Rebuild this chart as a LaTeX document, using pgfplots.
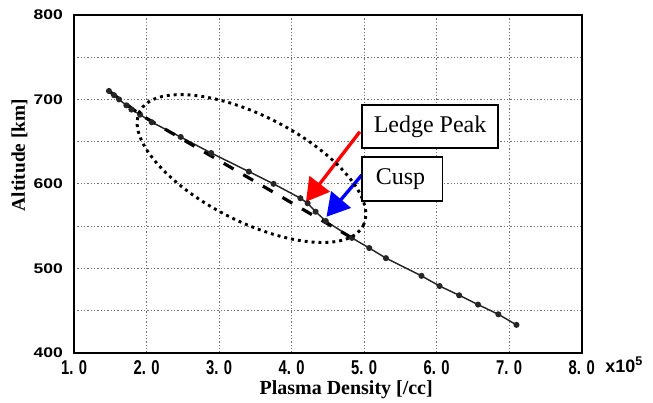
\documentclass[border=0pt]{standalone}
\usepackage{pgfplots}
\pgfplotsset{compat=1.18}
\usepackage{pgfplotstable}
\usepackage{fontspec}
\setmainfont{Liberation Serif}
\newfontfamily\tickfont{Liberation Sans}
\usetikzlibrary{arrows.meta}

% condensed / widened bold tick labels
\newcommand\xt[1]{\scalebox{0.74}[1]{\tickfont\fontsize{15}{15}\selectfont\bfseries #1}}
\newcommand\yt[1]{\scalebox{1.25}[1]{\tickfont\fontsize{10.5}{10.5}\selectfont\bfseries #1}}

% measured density profile (x in units of 1e5 /cc, altitude in km)
\pgfplotstableread{
x y
1.48 710
1.55 705
1.62 700
1.72 693
1.79 688
1.91 682
2.07 673
2.47 655.5
2.89 636.5
3.41 614.5
3.75 600
4.12 583
4.22 577
4.33 567
4.47 556
4.83 536
5.07 524
5.30 512
5.79 491
6.04 479
6.31 468
6.57 457
6.85 445.5
7.10 433
}\profile

% smooth profile without the ledge
\pgfplotstableread{
x y
1.48 710
1.91 682
4.83 536
}\trend

\begin{document}
\begin{tikzpicture}
\begin{axis}[
  scale only axis,
  width=381pt, height=253.5pt,
  xmin=1, xmax=8, ymin=400, ymax=800,
  clip=false,
  xtick={1,2,...,8},
  xticklabels={\xt{1. 0},\xt{2. 0},\xt{3. 0},\xt{4. 0},\xt{5. 0},\xt{6. 0},\xt{7. 0},\xt{8. 0}},
  ytick={400,500,...,800},
  yticklabels={\yt{400},\yt{500},\yt{600},\yt{700},\yt{800}},
  minor ytick={450,550,650,750},
  xticklabel style={yshift=-2pt},
  yticklabel style={xshift=-5pt},
  major tick length=0pt, minor tick length=0pt,
  grid=both,
  major grid style={black!55, line width=0.8pt, dash pattern=on 1pt off 1.5pt},
  minor grid style={black!55, line width=0.8pt, dash pattern=on 1pt off 1.5pt},
  axis line style={line width=1.3pt},
]
\addplot[black!85, line width=1.1pt, mark=*, mark size=1.7pt] table {\profile};
\addplot[black, line width=2.4pt, dash pattern=on 8.5pt off 8.5pt] table {\trend};

\coordinate (E) at (axis cs:3.446,618.1);
\coordinate (LR) at (rel axis cs:1,0);
\coordinate (LL) at (rel axis cs:0,0);
\coordinate (UR) at (rel axis cs:1,1);

% annotation arrows
\draw[red, line width=2.5pt, -{Triangle[length=17pt,width=19pt]}]
  (axis cs:4.94,661.7) -- (axis cs:4.197,578.8);
\draw[blue, line width=2.5pt, -{Triangle[length=17pt,width=19pt]}]
  (axis cs:4.966,610.4) -- (axis cs:4.48,561);

% axis titles
\node[anchor=base, font=\fontsize{15}{15}\selectfont\bfseries]
  at ([yshift=-31.5pt]rel axis cs:0.536,0) {Plasma Density [/cc]};
\node[rotate=90, anchor=base, font=\fontsize{14.5}{14.5}\selectfont\bfseries]
  at ([xshift=-36.9pt]rel axis cs:0,0.585) {Altitude [km]};
\end{axis}

% region of interest
\draw[black, line width=2.2pt, dash pattern=on 2.2pt off 3pt, shift={(E)}, rotate=-27]
  (0,0) ellipse [x radius=94.2pt, y radius=39.7pt];

% labelled boxes
\begin{axis}[
  scale only axis, width=381pt, height=253.5pt,
  xmin=1, xmax=8, ymin=400, ymax=800,
  hide axis, clip=false]
\draw[black, line width=1.4pt, fill=white] (axis cs:4.966,693.3) rectangle (axis cs:6.85,642);
\node[font=\fontsize{18}{18}\selectfont] at (axis cs:5.908,667.6) {Ledge Peak};
\draw[black, line width=1.4pt, fill=white] (axis cs:4.966,631.4) rectangle (axis cs:6.08,580);
\node[font=\fontsize{18}{18}\selectfont] at (axis cs:5.50,605.7) {Cusp};
\end{axis}

% exponent of the density axis
\node[anchor=base west, font=\tickfont\fontsize{13.5}{13.5}\selectfont\bfseries, inner sep=0pt]
  at ([xshift=17.5pt, yshift=-15.2pt]LR) {x10\textsuperscript{5}};

\pgfresetboundingbox
\path[use as bounding box] ([xshift=-55.65pt, yshift=-37.5pt]LL) rectangle ([xshift=53.5pt, yshift=11.25pt]UR);
\end{tikzpicture}
\end{document}
